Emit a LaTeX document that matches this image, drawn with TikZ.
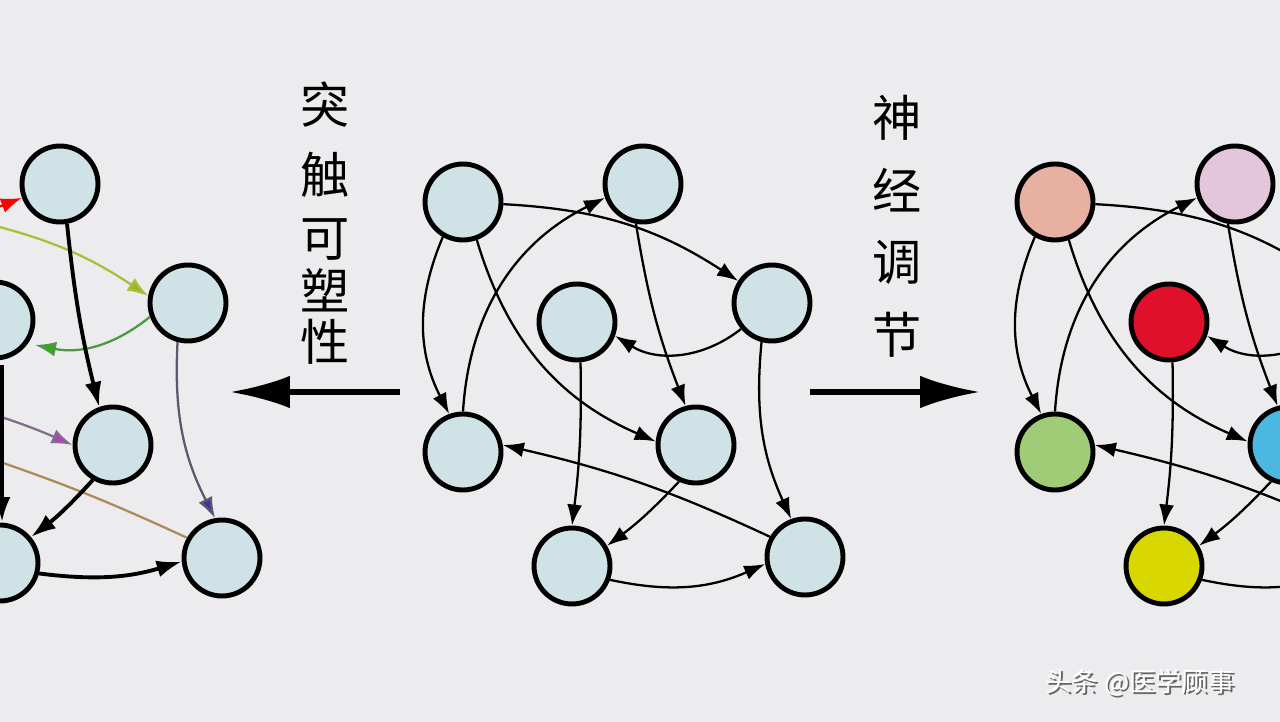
\documentclass[tikz,border=0pt]{standalone}
\usepackage{fontspec}
\newfontfamily\cjk{Noto Sans CJK SC}
\usetikzlibrary{arrows.meta}
\definecolor{bg}{HTML}{ECECEE}
\definecolor{nfill}{HTML}{CFE2E6}
\begin{document}
\begin{tikzpicture}[x=0.02cm,y=-0.02cm,
  nd/.style={circle,draw=black,line width=2.8pt,fill=nfill,minimum size=1.52cm,inner sep=0pt},
  ed/.style={line width=1.3pt,-{Latex[length=0.42cm,width=0.3cm]}},
  thk/.style={line width=2.2pt,-{Latex[length=0.5cm,width=0.34cm]}},
  big/.style={line width=3pt,-{Latex[length=1.2cm,width=0.65cm]}},
  vt/.style={font=\cjk\fontsize{28}{28}\selectfont}]
\fill[bg] (0,0) rectangle (1280,722);
\useasboundingbox (0,0) rectangle (1280,722);
\clip (0,0) rectangle (1280,722);
% center network
\begin{scope}
\node[nd] (A) at (463,202) {};
\node[nd] (B) at (643,184) {};
\node[nd] (C) at (772,303) {};
\node[nd] (D) at (577,322) {};
\node[nd] (E) at (463,452) {};
\node[nd] (F) at (696,445) {};
\node[nd] (G) at (572,566) {};
\node[nd] (H) at (805,557) {};
\draw[ed] (A) to[bend left=15] (C);
\draw[ed] (A.240) to[bend right=25] (E.110);
\draw[ed] (A.290) to[bend right=25] (F.175);
\draw[ed] (E.90) to[bend left=30] (B.200);
\draw[ed] (B.260) to[bend right=6] (F.105);
\draw[ed] (C.220) to[bend left=35] (D.-20);
\draw[ed] (C.255) to[bend right=15] (H.110);
\draw[ed] (D.275) to[bend left=4] (G.90);
\draw[ed] (F.245) to[bend left=5] (G.30);
\draw[ed] (H.150) to[bend right=6] (E.10);
\draw[ed] (G.-20) to[bend right=18] (H.190);
\end{scope}
% right network (shifted copy)
\begin{scope}[xshift=592*0.02cm]
\node[nd,fill={rgb,255:red,232;green,176;blue,160}] (RA) at (463,202) {};
\node[nd,fill={rgb,255:red,228;green,198;blue,220}] (RB) at (643,184) {};
\node[nd,fill={rgb,255:red,140;green,190;blue,220}] (RC) at (772,303) {};
\node[nd,fill={rgb,255:red,224;green,16;blue,42}] (RD) at (577,322) {};
\node[nd,fill={rgb,255:red,160;green,204;blue,120}] (RE) at (463,452) {};
\node[nd,fill={rgb,255:red,74;green,184;blue,224}] (RF) at (696,445) {};
\node[nd,fill={rgb,255:red,216;green,216;blue,0}] (RG) at (572,566) {};
\node[nd,fill=nfill] (RH) at (805,557) {};
\draw[ed] (RA) to[bend left=15] (RC);
\draw[ed] (RA.240) to[bend right=25] (RE.110);
\draw[ed] (RA.290) to[bend right=25] (RF.175);
\draw[ed] (RE.90) to[bend left=30] (RB.200);
\draw[ed] (RB.260) to[bend right=6] (RF.105);
\draw[ed] (RC.220) to[bend left=35] (RD.-20);
\draw[ed] (RC.255) to[bend right=15] (RH.110);
\draw[ed] (RD.275) to[bend left=4] (RG.90);
\draw[ed] (RF.245) to[bend left=5] (RG.30);
\draw[ed] (RH.150) to[bend right=6] (RE.10);
\draw[ed] (RG.-20) to[bend right=18] (RH.190);
\end{scope}
% left network
\node[nd] (L1) at (60,184) {};
\node[nd] (L2) at (188,303) {};
\node[nd] (L3) at (-5,320) {};
\node[nd] (L4) at (113,445) {};
\node[nd] (L5) at (0,563) {};
\node[nd] (L6) at (222,558) {};
\coordinate (r0) at (-40,222);
\coordinate (y0) at (-20,222);
\coordinate (p0) at (-20,410);
\coordinate (b0) at (-20,455);
\coordinate (k0) at (2,365);
\coordinate (k1) at (2,522);
\draw[ed,red] (r0) -- (L1.200);
\draw[ed,draw={rgb,255:red,170;green,190;blue,60},{Latex[length=0.42cm,width=0.3cm,fill={rgb,255:red,160;green,180;blue,30}]}-] (L2.170) to[bend right=10] (y0);
\draw[ed,draw={rgb,255:red,80;green,150;blue,70},-{Latex[length=0.42cm,width=0.3cm,fill={rgb,255:red,50;green,170;blue,30}]}] (L2.200) to[bend left=25] (35,345);
\draw[ed,draw={rgb,255:red,130;green,110;blue,140},-{Latex[length=0.42cm,width=0.3cm,fill={rgb,255:red,180;green,60;blue,180}]}] (p0) to[bend left=3] (L4.180);
\draw[line width=1.3pt,draw={rgb,255:red,170;green,140;blue,90}] (b0) to[bend left=3] (L6.150);
\draw[ed,draw={rgb,255:red,90;green,90;blue,110},-{Latex[length=0.42cm,width=0.3cm,fill={rgb,255:red,60;green,50;blue,170}]}] (L2.255) to[bend right=15] (L6.100);
\draw[thk] (L1.280) to[bend right=4] (L4.110);
\draw[thk] (L4.240) to[bend left=5] (L5.40);
\draw[thk] (L5.-15) to[bend right=12] (L6.185);
\draw[thk] (k0) -- (k1);
% big arrows
\coordinate (la0) at (400,392); \coordinate (la1) at (230,392);
\coordinate (ra0) at (810,392); \coordinate (ra1) at (980,392);
\draw[big] (la0) -- (la1);
\draw[big] (ra0) -- (ra1);
% texts
\node[vt] (t1) at (325,105) {突};
\node[vt] (t2) at (325,175) {触};
\node[vt] (t3) at (325,240) {可};
\node[vt] (t4) at (325,290) {塑};
\node[vt] (t5) at (325,342) {性};
\node[vt] (s1) at (897,118) {神};
\node[vt] (s2) at (897,190) {经};
\node[vt] (s3) at (897,262) {调};
\node[vt] (s4) at (897,335) {节};
\node[font=\cjk\fontsize{15}{15}\selectfont,text=black!60] (wm0) at (1142,685) {头条 @医学顾事};
\node[font=\cjk\fontsize{15}{15}\selectfont,text=white] (wm) at (1140,683) {头条 @医学顾事};
\end{tikzpicture}
\end{document}
